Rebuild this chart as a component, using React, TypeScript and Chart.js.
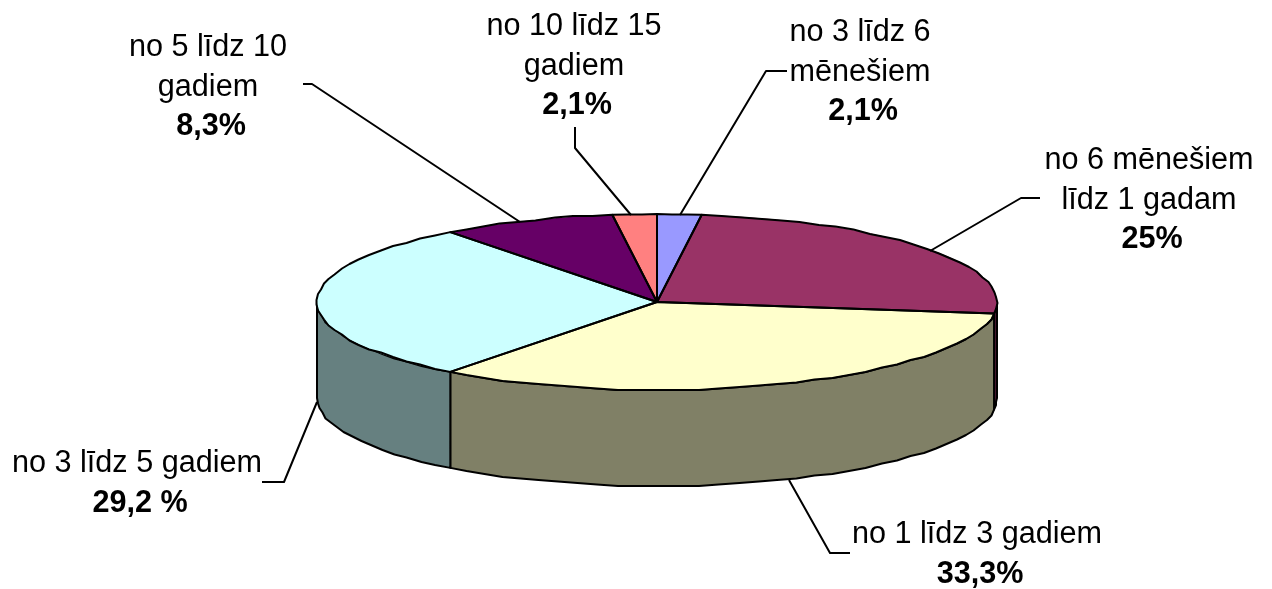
import React, { useEffect, useRef } from "react";
import { Chart, registerables } from "chart.js";

Chart.register(...registerables);

const categories = [
  "no 3 līdz 6 mēnešiem",
  "no 6 mēnešiem līdz 1 gadam",
  "no 1 līdz 3 gadiem",
  "no 3 līdz 5 gadiem",
  "no 5 līdz 10 gadiem",
  "no 10 līdz 15 gadiem",
];
const values = [2.1, 25, 33.3, 29.2, 8.3, 2.1];
const topColors = ["#9999FF", "#993366", "#FFFFCC", "#CCFFFF", "#660066", "#FF8080"];
const wallColors = ["#4D4D80", "#4D1A33", "#808066", "#668080", "#330033", "#804040"];
const labelLines = [
  ["no 3 līdz 6", "mēnešiem"],
  ["no 6 mēnešiem", "līdz 1 gadam"],
  ["no 1 līdz 3 gadiem"],
  ["no 3 līdz 5 gadiem"],
  ["no 5 līdz 10", "gadiem"],
  ["no 10 līdz 15", "gadiem"],
];
const valueLabels = ["2,1%", "25%", "33,3%", "29,2 %", "8,3%", "2,1%"];

// Layout of the tilted pie and its annotations
const CX = 657, CY = 302, RX = 340, RY = 88, DEPTH = 96;
const FONT = '"Liberation Sans", Arial, sans-serif';
const labelBoxes = [
  { x: 860, y: 33 },
  { x: 1149, y: 161 },
  { x: 977, y: 535 },
  { x: 137, y: 464 },
  { x: 208, y: 48 },
  { x: 574, y: 27 },
];
const leaders = [
  [[787, 71], [766, 71], [680, 215]],
  [[1040, 198], [1021, 198], [930, 251]],
  [[850, 553], [830, 553], [789, 480]],
  [[262, 482], [284, 482], [317, 402]],
  [[303, 84], [312, 84], [520, 222]],
  [[575, 127], [575, 148], [631, 215]],
];
const LINE_H = 39.5;
const BOLD_DX = 3;
const GRID = 1.5;
const STEP = (3.5 * Math.PI) / 180;

// Traces an elliptical rim as a coarse polyline, like the reference's stepped outline.
function rim(ctx: any, cy: number, a: number, b: number, start: boolean) {
  const n = Math.max(1, Math.ceil(Math.abs(b - a) / STEP));
  for (let k = 0; k <= n; k++) {
    const t = a + ((b - a) * k) / n;
    let x = CX + RX * Math.cos(t);
    let y = cy + RY * Math.sin(t);
    if (k > 0 && k < n) {
      x = Math.round(x / GRID) * GRID;
      y = Math.round(y / GRID) * GRID;
    }
    if (k === 0 && start) ctx.moveTo(x, y);
    else ctx.lineTo(x, y);
  }
}

const pie3d = {
  id: "pie3d",
  beforeDatasetsDraw(chart: any) {
    const ctx = chart.ctx;
    const arcs = chart.getDatasetMeta(0).data;
    ctx.save();
    ctx.lineWidth = 2;
    ctx.strokeStyle = "#000";
    ctx.lineJoin = "round";
    arcs.forEach((arc: any, i: number) => {
      const a = Math.max(arc.startAngle, 0);
      const b = Math.min(arc.endAngle, Math.PI);
      if (b <= a) return;
      ctx.beginPath();
      rim(ctx, CY, a, b, true);
      rim(ctx, CY + DEPTH, b, a, false);
      ctx.closePath();
      ctx.fillStyle = wallColors[i];
      ctx.fill();
      ctx.stroke();
    });
    ctx.restore();
    const first = arcs[0];
    ctx.save();
    ctx.translate(CX, CY);
    ctx.scale(RX / first.outerRadius, RY / first.outerRadius);
    ctx.translate(-first.x, -first.y);
  },
  afterDatasetsDraw(chart: any) {
    const ctx = chart.ctx;
    ctx.restore();
    const arcs = chart.getDatasetMeta(0).data;
    ctx.save();
    ctx.lineWidth = 2;
    ctx.strokeStyle = "#000";
    ctx.lineJoin = "round";
    arcs.forEach((arc: any) => {
      ctx.beginPath();
      ctx.moveTo(CX, CY);
      rim(ctx, CY, arc.startAngle, arc.endAngle, false);
      ctx.closePath();
      ctx.stroke();
    });
    leaders.forEach((pts) => {
      ctx.beginPath();
      pts.forEach(([x, y], k) => (k ? ctx.lineTo(x, y) : ctx.moveTo(x, y)));
      ctx.stroke();
    });
    ctx.fillStyle = "#000";
    ctx.textAlign = "center";
    ctx.textBaseline = "middle";
    labelLines.forEach((lines, i) => {
      const box = labelBoxes[i];
      ctx.font = `30.6px ${FONT}`;
      lines.forEach((t, k) => ctx.fillText(t, box.x, box.y + k * LINE_H));
      ctx.font = `bold 30.6px ${FONT}`;
      ctx.fillText(valueLabels[i], box.x + BOLD_DX, box.y + lines.length * LINE_H);
    });
    ctx.restore();
  },
};

export default function App() {
  const ref = useRef<HTMLCanvasElement>(null);
  useEffect(() => {
    document.body.style.margin = "0";
    document.body.style.background = "#fff";
    const chart = new Chart(ref.current!, {
      type: "pie",
      data: {
        labels: categories,
        datasets: [{ data: values, backgroundColor: topColors, borderWidth: 0, clip: false } as any],
      },
      options: {
        responsive: false,
        animation: false,
        plugins: { legend: { display: false }, tooltip: { enabled: false } },
      },
      plugins: [pie3d],
    });
    return () => chart.destroy();
  }, []);
  return <canvas ref={ref} width={1272} height={589} style={{ display: "block" }} />;
}
